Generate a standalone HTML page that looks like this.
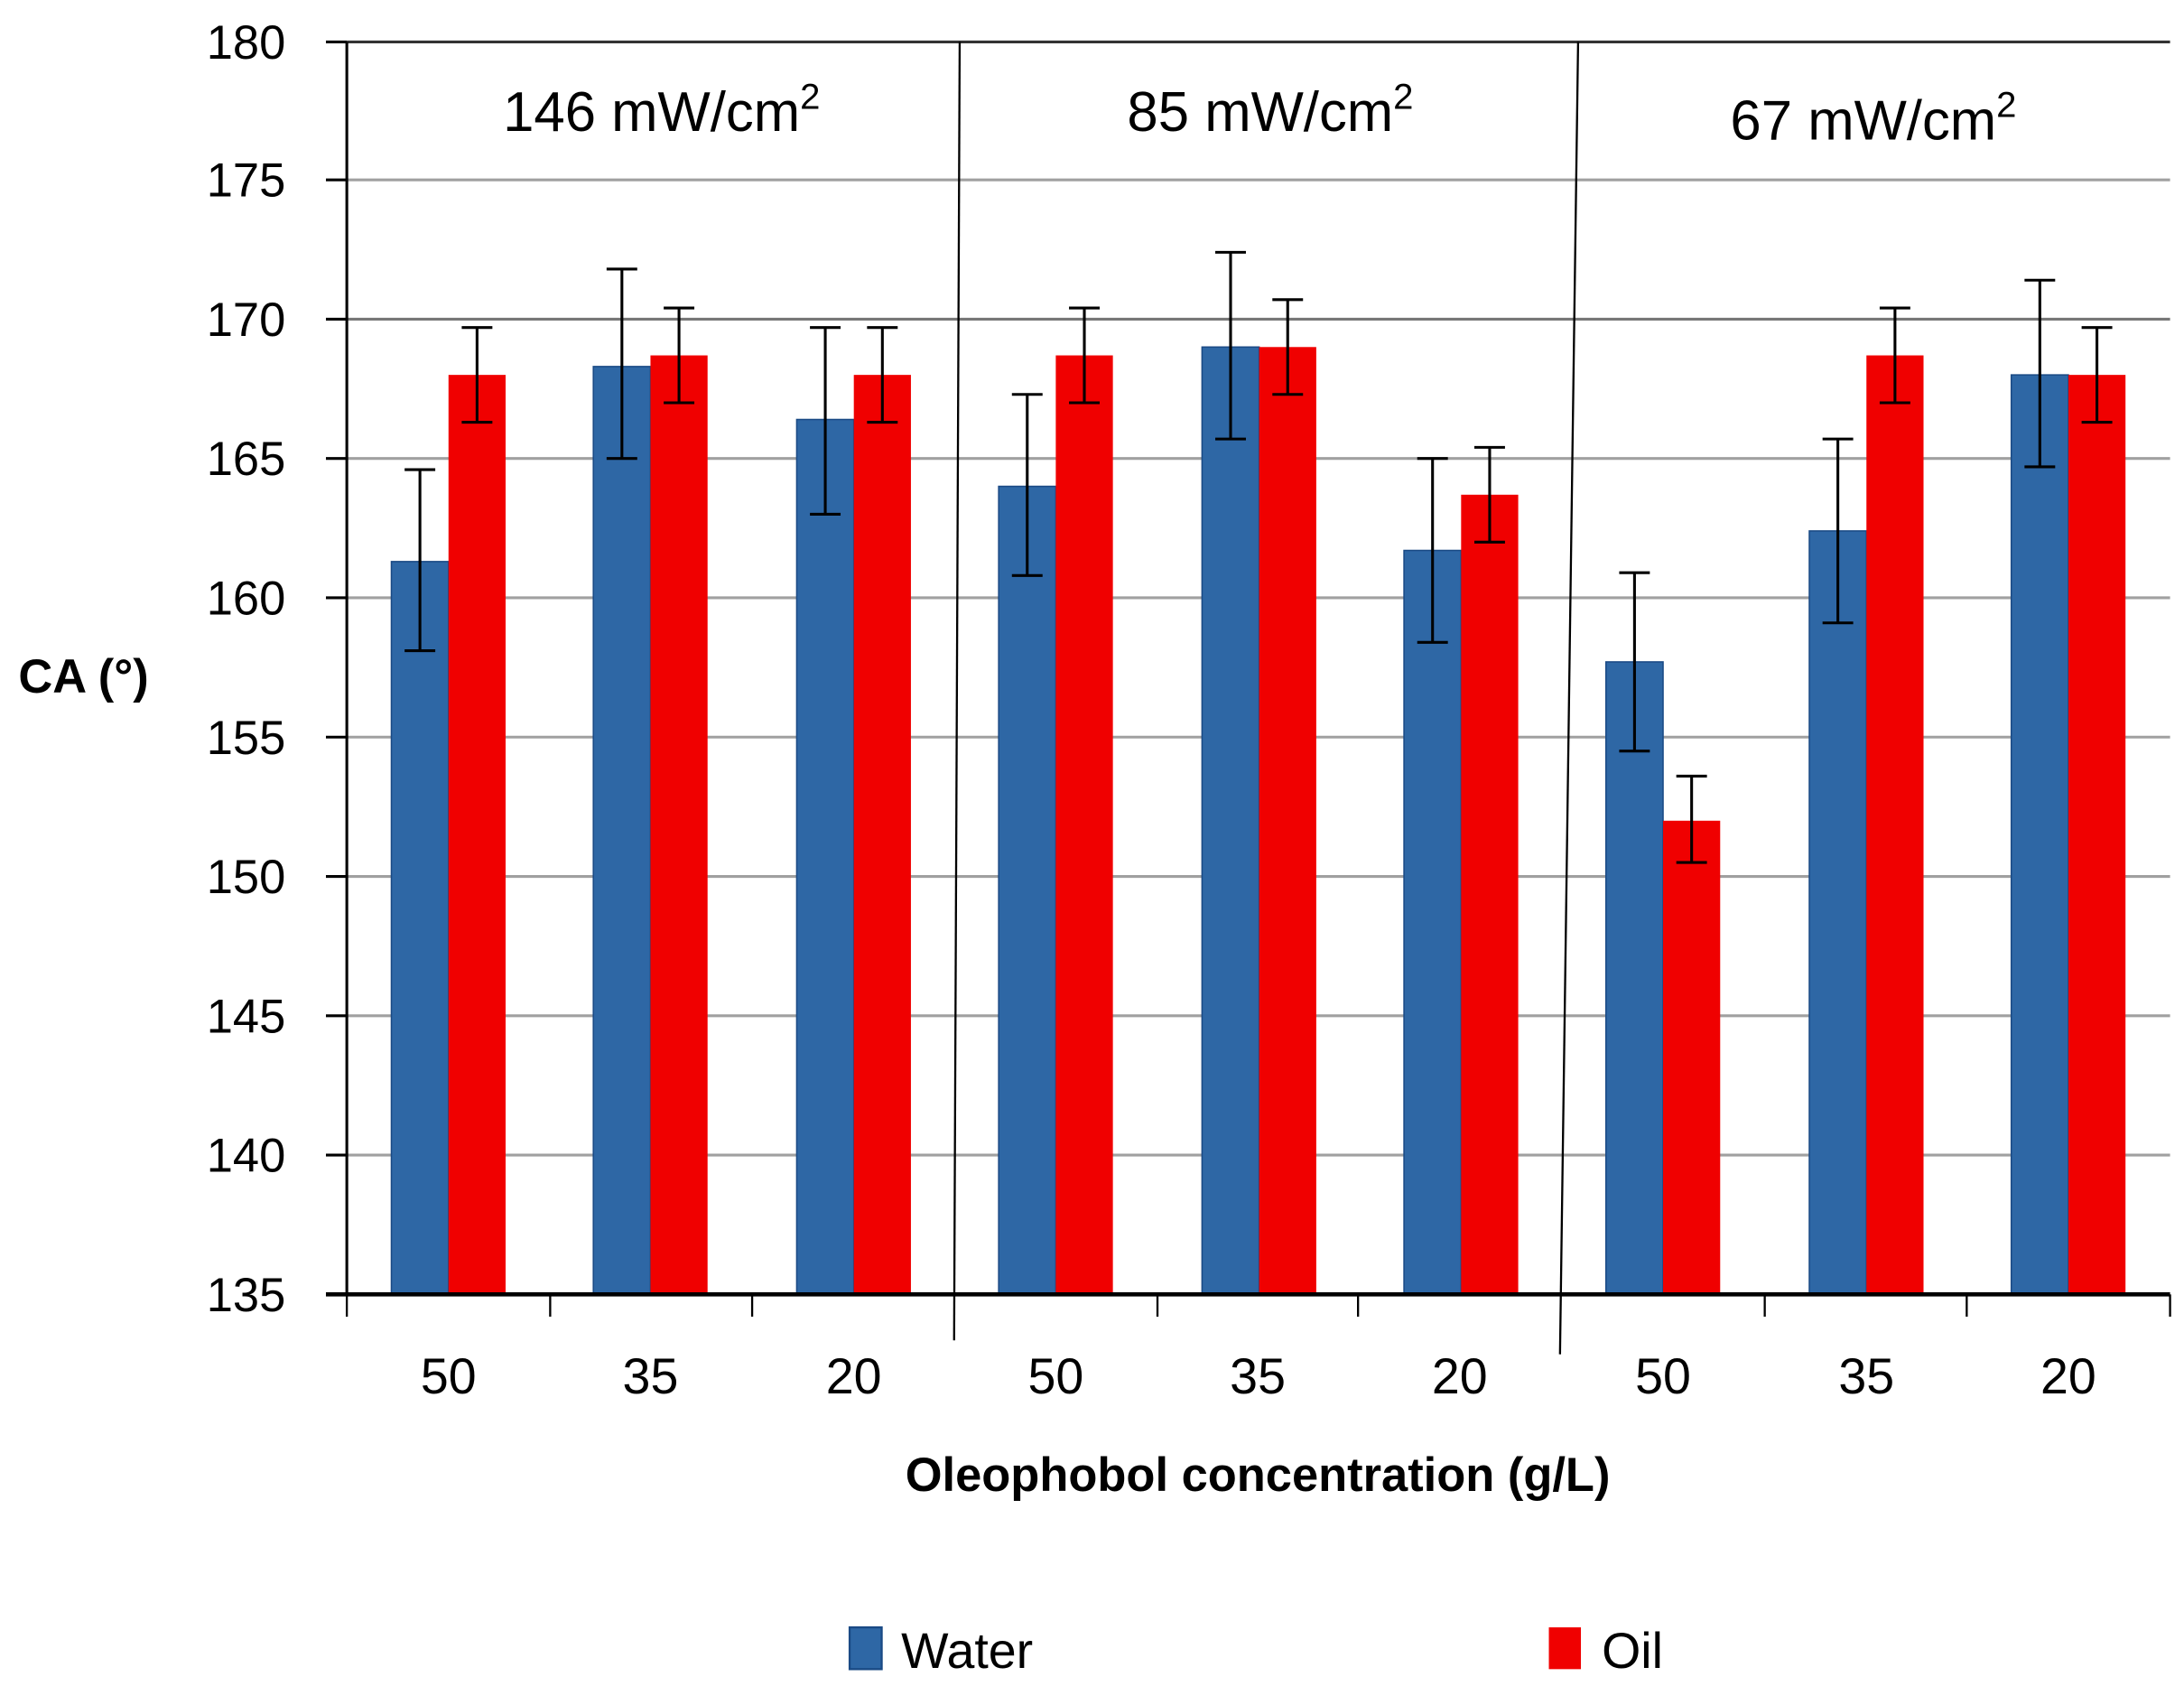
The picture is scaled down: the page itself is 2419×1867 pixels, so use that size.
<!DOCTYPE html>
<html><head><meta charset="utf-8"><style>html,body{margin:0;padding:0;background:#fff}svg{display:block}</style></head><body>
<svg width="2419" height="1867" viewBox="0 0 1568 1210" xmlns="http://www.w3.org/2000/svg" font-family="Liberation Sans, DejaVu Sans, sans-serif">
<g stroke="#a0a0a0" stroke-width="2">
<line x1="249" y1="129" x2="1558" y2="129"/><line x1="249" y1="229" x2="1558" y2="229" stroke="#777"/><line x1="249" y1="329" x2="1558" y2="329"/><line x1="249" y1="429" x2="1558" y2="429"/><line x1="249" y1="529" x2="1558" y2="529"/><line x1="249" y1="629" x2="1558" y2="629"/><line x1="249" y1="729" x2="1558" y2="729"/><line x1="249" y1="829" x2="1558" y2="829"/>
</g>
<line x1="249" y1="30" x2="1558" y2="30" stroke="#333" stroke-width="2"/>
<g fill="#2e67a5" stroke="#1a4a85" stroke-width="1">
<rect x="281" y="403" width="41" height="526"/>
<rect x="426" y="263" width="41" height="666"/>
<rect x="572" y="301" width="41" height="628"/>
<rect x="717" y="349" width="41" height="580"/>
<rect x="863" y="249" width="41" height="680"/>
<rect x="1008" y="395" width="41" height="534"/>
<rect x="1153" y="475" width="41" height="454"/>
<rect x="1299" y="381" width="41" height="548"/>
<rect x="1444" y="269" width="41" height="660"/>
</g>
<g fill="#f00000">
<rect x="322" y="269" width="41" height="660"/>
<rect x="467" y="255" width="41" height="674"/>
<rect x="613" y="269" width="41" height="660"/>
<rect x="758" y="255" width="41" height="674"/>
<rect x="904" y="249" width="41" height="680"/>
<rect x="1049" y="355" width="41" height="574"/>
<rect x="1194" y="589" width="41" height="340"/>
<rect x="1340" y="255" width="41" height="674"/>
<rect x="1485" y="269" width="41" height="660"/>
</g>
<g stroke="#000" stroke-width="2" fill="none">
<path d="M301.5 337V467M290.5 337h22M290.5 467h22"/>
<path d="M342.5 235V303M331.5 235h22M331.5 303h22"/>
<path d="M446.5 193V329M435.5 193h22M435.5 329h22"/>
<path d="M487.5 221V289M476.5 221h22M476.5 289h22"/>
<path d="M592.5 235V369M581.5 235h22M581.5 369h22"/>
<path d="M633.5 235V303M622.5 235h22M622.5 303h22"/>
<path d="M737.5 283V413M726.5 283h22M726.5 413h22"/>
<path d="M778.5 221V289M767.5 221h22M767.5 289h22"/>
<path d="M883.5 181V315M872.5 181h22M872.5 315h22"/>
<path d="M924.5 215V283M913.5 215h22M913.5 283h22"/>
<path d="M1028.5 329V461M1017.5 329h22M1017.5 461h22"/>
<path d="M1069.5 321V389M1058.5 321h22M1058.5 389h22"/>
<path d="M1173.5 411V539M1162.5 411h22M1162.5 539h22"/>
<path d="M1214.5 557V619M1203.5 557h22M1203.5 619h22"/>
<path d="M1319.5 315V447M1308.5 315h22M1308.5 447h22"/>
<path d="M1360.5 221V289M1349.5 221h22M1349.5 289h22"/>
<path d="M1464.5 201V335M1453.5 201h22M1453.5 335h22"/>
<path d="M1505.5 235V303M1494.5 235h22M1494.5 303h22"/>
</g>
<g stroke="#000" stroke-width="2">
<line x1="249" y1="30" x2="249" y2="929"/>
<line x1="234" y1="30" x2="249" y2="30"/><line x1="234" y1="129" x2="249" y2="129"/><line x1="234" y1="229" x2="249" y2="229"/><line x1="234" y1="329" x2="249" y2="329"/><line x1="234" y1="429" x2="249" y2="429"/><line x1="234" y1="529" x2="249" y2="529"/><line x1="234" y1="629" x2="249" y2="629"/><line x1="234" y1="729" x2="249" y2="729"/><line x1="234" y1="829" x2="249" y2="829"/>
<line x1="234" y1="929" x2="1558" y2="929" stroke-width="3"/>
<line x1="249" y1="929" x2="249" y2="945" stroke-width="1.5"/><line x1="395" y1="929" x2="395" y2="945" stroke-width="1.5"/><line x1="540" y1="929" x2="540" y2="945" stroke-width="1.5"/><line x1="831" y1="929" x2="831" y2="945" stroke-width="1.5"/><line x1="975" y1="929" x2="975" y2="945" stroke-width="1.5"/><line x1="1267" y1="929" x2="1267" y2="945" stroke-width="1.5"/><line x1="1412" y1="929" x2="1412" y2="945" stroke-width="1.5"/><line x1="1558" y1="929" x2="1558" y2="945" stroke-width="1.5"/>
<line x1="689" y1="30" x2="685" y2="962" stroke-width="1.5"/>
<line x1="1133" y1="30" x2="1120" y2="972" stroke-width="1.5"/>
</g>
<g font-size="34" text-anchor="end" fill="#000">
<text x="205" y="42">180</text><text x="205" y="141">175</text><text x="205" y="241">170</text><text x="205" y="341">165</text><text x="205" y="441">160</text><text x="205" y="541">155</text><text x="205" y="641">150</text><text x="205" y="741">145</text><text x="205" y="841">140</text><text x="205" y="941">135</text>
</g>
<g font-size="36" text-anchor="middle" fill="#000">
<text x="322" y="1000">50</text><text x="467" y="1000">35</text><text x="613" y="1000">20</text><text x="758" y="1000">50</text><text x="903" y="1000">35</text><text x="1048" y="1000">20</text><text x="1194" y="1000">50</text><text x="1340" y="1000">35</text><text x="1485" y="1000">20</text>
</g>
<g font-size="40" text-anchor="middle" fill="#000">
<text x="475" y="94">146 mW/cm<tspan font-size="26" dy="-16">2</tspan></text>
<text x="912" y="94">85 mW/cm<tspan font-size="26" dy="-16">2</tspan></text>
<text x="1345" y="100">67 mW/cm<tspan font-size="26" dy="-16">2</tspan></text>
</g>
<text x="903" y="1070" font-size="34" font-weight="bold" text-anchor="middle">Oleophobol concentration (g/L)</text>
<text x="60" y="497" font-size="34" font-weight="bold" text-anchor="middle">CA (°)</text>
<rect x="610" y="1168" width="23" height="30" fill="#2e67a5" stroke="#1a4a85" stroke-width="1.5"/>
<text x="647" y="1197" font-size="36">Water</text>
<rect x="1112" y="1168" width="23" height="30" fill="#f00000"/>
<text x="1150" y="1197" font-size="36">Oil</text>
</svg>
</body></html>
